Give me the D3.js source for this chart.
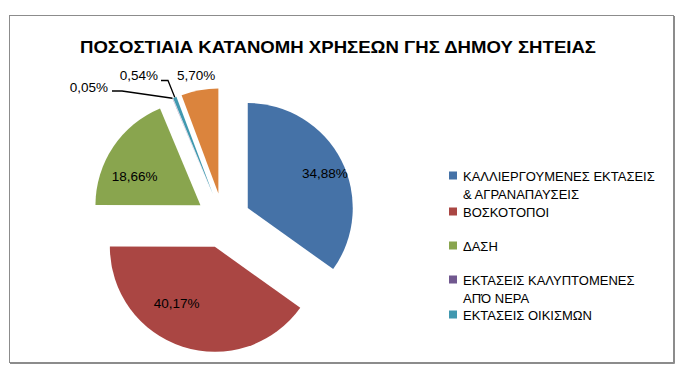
<!DOCTYPE html>
<html><head><meta charset="utf-8">
<script src="https://cdn.jsdelivr.net/npm/d3@7"></script>
<style>body{margin:0;background:#fff}svg{display:block}</style>
</head><body><svg id="c" width="679" height="372"></svg>
<script>
const title = "ΠΟΣΟΣΤΙΑΙΑ ΚΑΤΑΝΟΜΗ ΧΡΗΣΕΩΝ ΓΗΣ ΔΗΜΟΥ ΣΗΤΕΙΑΣ";
const categories = ["ΚΑΛΛΙΕΡΓΟΥΜΕΝΕΣ ΕΚΤΑΣΕΙΣ & ΑΓΡΑΝΑΠΑΥΣΕΙΣ","ΒΟΣΚΟΤΟΠΟΙ","ΔΑΣΗ","ΕΚΤΑΣΕΙΣ ΚΑΛΥΠΤΟΜΕΝΕΣ ΑΠΌ ΝΕΡΑ","ΕΚΤΑΣΕΙΣ ΟΙΚΙΣΜΩΝ","ΛΟΙΠΑ"];
const legendLines = [["ΚΑΛΛΙΕΡΓΟΥΜΕΝΕΣ ΕΚΤΑΣΕΙΣ","& ΑΓΡΑΝΑΠΑΥΣΕΙΣ"],["ΒΟΣΚΟΤΟΠΟΙ"],["ΔΑΣΗ"],["ΕΚΤΑΣΕΙΣ ΚΑΛΥΠΤΟΜΕΝΕΣ","ΑΠΌ ΝΕΡΑ"],["ΕΚΤΑΣΕΙΣ ΟΙΚΙΣΜΩΝ"]];
const values = [34.88, 40.17, 18.66, 0.05, 0.54, 5.70];
const labels = ["34,88%","40,17%","18,66%","0,05%","0,54%","5,70%"];
const colors = ["#4572A7","#AA4643","#89A54E","#71588F","#4198AF","#DB843D"];

const svg = d3.select("#c");
// frame
svg.append("rect").attr("x",9.5).attr("y",15.5).attr("width",664).attr("height",347)
  .attr("fill","#fff").attr("stroke","#8c8c8c").attr("stroke-width",1);
svg.append("path").attr("d","M674.5,16 V363.5 H10").attr("fill","none").attr("stroke","#8c8c8c").attr("stroke-width",1);

svg.append("text").attr("x",338).attr("y",53).attr("text-anchor","middle")
  .attr("font-family","Liberation Sans, Arial, sans-serif").attr("font-weight","bold")
  .attr("font-size",17).attr("textLength",516).attr("lengthAdjust","spacingAndGlyphs")
  .attr("fill","#000").text(title);

const cx = 223.3, cy = 220.6, R = 105, explode = 27.5;
const pie = d3.pie().sort(null).value(d=>d);
const arcs = pie(values);
const arc = d3.arc().innerRadius(0).outerRadius(R);
const g = svg.append("g").attr("transform",`translate(${cx},${cy})`);
function apex(a){ const m=(a.startAngle+a.endAngle)/2; return [explode*Math.sin(m), -explode*Math.cos(m)]; }
g.selectAll("path.s").data(arcs).enter().append("path").attr("class","s")
  .attr("transform",d=>{const p=apex(d);return `translate(${p[0]},${p[1]})`;})
  .attr("d",arc).attr("fill",(d,i)=>colors[i]);

const font = "Liberation Sans, Arial, sans-serif";
const fs = 13.5;
// inside labels
const nudge = {0:[10,0],1:[-15,-16],2:[-3,13]};
[0,1,2].forEach(i=>{
  const a=arcs[i], p=apex(a), m=(a.startAngle+a.endAngle)/2, k=0.72*R;
  const x=p[0]+k*Math.sin(m)+nudge[i][0], y=p[1]-k*Math.cos(m)+nudge[i][1];
  g.append("text").attr("x",x).attr("y",y+5).attr("text-anchor","middle")
   .attr("font-family",font).attr("font-size",fs).attr("fill","#000").text(labels[i]);
});
// outside labels with leaders
function outer(i){const a=arcs[i],p=apex(a),m=(a.startAngle+a.endAngle)/2;return [cx+p[0]+R*Math.sin(m), cy+p[1]-R*Math.cos(m)];}
const o3=outer(3), o4=outer(4);
svg.append("path").attr("d",`M${o3[0]},${o3[1]} L122,91 L112,91`).attr("fill","none").attr("stroke","#000").attr("stroke-width",1.3);
svg.append("path").attr("d",`M${o4[0]},${o4[1]} L168,80.5 L161,80.5`).attr("fill","none").attr("stroke","#000").attr("stroke-width",1.3);
svg.append("text").attr("x",108).attr("y",92).attr("text-anchor","end").attr("font-family",font).attr("font-size",fs).text(labels[3]);
svg.append("text").attr("x",158).attr("y",80).attr("text-anchor","end").attr("font-family",font).attr("font-size",fs).text(labels[4]);
svg.append("text").attr("x",177).attr("y",80).attr("text-anchor","start").attr("font-family",font).attr("font-size",fs).text(labels[5]);

// legend
const lg = svg.append("g");
const rowY = [176,212,246,280,315];
legendLines.forEach((lines,i)=>{
  lg.append("rect").attr("x",449).attr("y",rowY[i]-4.5).attr("width",8).attr("height",8).attr("fill",colors[i]);
  lines.forEach((t,j)=>{
    lg.append("text").attr("x",463).attr("y",rowY[i]+5+j*18).attr("font-family",font)
      .attr("font-size",13).attr("fill","#000").text(t);
  });
});
</script></body></html>
